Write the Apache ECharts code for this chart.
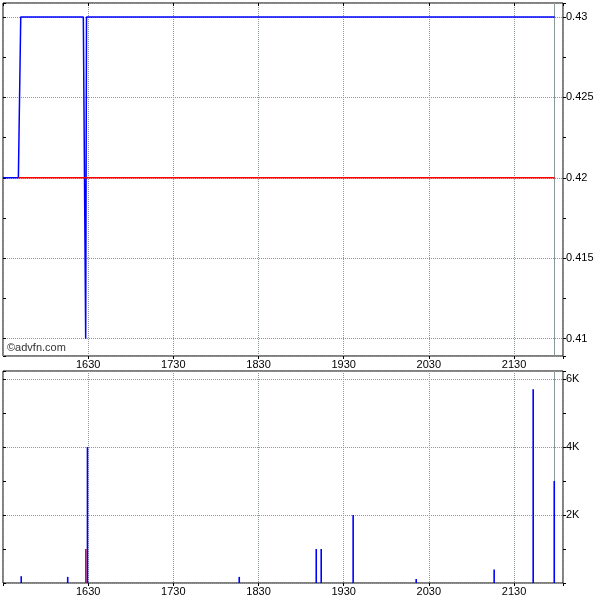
<!DOCTYPE html>
<html>
<head>
<meta charset="utf-8">
<script src="https://cdn.jsdelivr.net/npm/echarts@6/dist/echarts.min.js"></script>
<style>html,body{margin:0;padding:0;background:#fff;}#c{width:600px;height:600px;}</style>
</head>
<body>
<div id="c"></div>
<script>
// ---- data (times of day) ----
const priceTimes = ['15:30', '15:40:50', '15:42:30', '16:26:35', '16:28:15', '16:28:50', '21:58:40'];
const priceValues = [0.42, 0.42, 0.43, 0.43, 0.41, 0.43, 0.43];
const prevClose = 0.42;
const prevCloseStart = '15:40:50';

const volumeTimes = ['15:42:50', '16:15:35', '16:28:20', '16:29:30', '18:16:25', '19:10:40', '19:14:10', '19:36:40', '20:21:05', '21:16:00', '21:43:30', '21:58:20'];
const volumeValues = [200, 180, 1000, 4000, 180, 1000, 1000, 2000, 120, 400, 5700, 3000];
const volumeSide = ['up', 'up', 'down', 'up', 'up', 'up', 'up', 'up', 'up', 'up', 'up', 'up'];

const xTickLabels = ['1630', '1730', '1830', '1930', '2030', '2130'];
const priceTickLabels = ['0.41', '0.415', '0.42', '0.425', '0.43'];
const volumeTickLabels = ['2K', '4K', '6K'];

// ---- helpers ----
function toMin(s) {
  const p = s.split(':').map(Number);
  return p[0] * 60 + p[1] + (p[2] || 0) / 60;
}
function minToLabel(v) {
  const h = Math.floor(v / 60), m = Math.round(v - h * 60);
  return String(h) + String(m).padStart(2, '0');
}
const X_MIN = 930, X_MAX = 1324.5;
const lastTrade = toMin(volumeTimes[volumeTimes.length - 1]);

const priceData = priceTimes.map((t, i) => [toMin(t), priceValues[i]]);
const prevData = [[toMin(prevCloseStart), prevClose], [toMin(priceTimes[priceTimes.length - 1]), prevClose]];
const volData = volumeTimes.map((t, i) => ({
  value: [toMin(t), volumeValues[i]],
  itemStyle: { color: volumeSide[i] === 'down' ? '#ff0000' : '#0000ff' }
}));

const FONT = 'Liberation Sans';
const gridLine = { show: true, lineStyle: { color: '#8f9999', type: [1, 1], width: 1 } };

function xAxisDef(gridIndex, position, showLabels) {
  return {
    type: 'value', gridIndex, position, min: X_MIN, max: X_MAX, interval: 60,
    axisLine: { show: false },
    axisTick: { show: true, inside: position === 'top', length: 3, lineStyle: { color: '#000' } },
    axisLabel: {
      show: showLabels, margin: 3, color: '#000', fontFamily: FONT, fontSize: 11,
      showMinLabel: false,
      formatter: v => {
        const s = minToLabel(v);
        return xTickLabels.indexOf(s) >= 0 ? s : '';
      }
    },
    splitLine: showLabels ? gridLine : { show: false }
  };
}

const priceFmt = v => {
  const s = String(parseFloat(v.toFixed(4)));
  return priceTickLabels.indexOf(s) >= 0 ? s : '';
};
const volFmt = v => {
  const s = (v / 1000) + 'K';
  return volumeTickLabels.indexOf(s) >= 0 ? s : '';
};

const P_MIN = 0.40892, P_MAX = 0.43087;
const V_MAX = 6235;

function yAxisDef(gridIndex, position, isPrice) {
  const right = position === 'right';
  const o = {
    type: 'value', gridIndex, position,
    min: isPrice ? P_MIN : 0, max: isPrice ? P_MAX : V_MAX,
    axisLine: { show: false },
    axisTick: { show: true, inside: !right, length: 3, lineStyle: { color: '#000' } },
    minorTick: { show: true, splitNumber: 2, length: 3, lineStyle: { color: '#000' } },
    axisLabel: {
      show: right, margin: 3, color: '#000', fontFamily: FONT, fontSize: 11,
      formatter: isPrice ? priceFmt : volFmt
    },
    splitLine: right ? gridLine : { show: false }
  };
  if (isPrice) o.splitNumber = 4; else o.interval = 2000;
  return o;
}

const lastTradeMark = {
  silent: true, symbol: 'none', label: { show: false }, z: 1,
  lineStyle: { color: '#8a9a9a', type: 'solid', width: 1 },
  data: [{ xAxis: lastTrade }]
};

const chart = echarts.init(document.getElementById('c'), null, { renderer: 'canvas' });
chart.setOption({
  animation: false,
  backgroundColor: '#fff',
  grid: [
    { left: 3, right: 37, top: 3, bottom: 244, show: true, borderColor: '#000', borderWidth: 1, backgroundColor: '#fff' },
    { left: 3, right: 37, top: 371, bottom: 17, show: true, borderColor: '#000', borderWidth: 1, backgroundColor: '#fff' }
  ],
  xAxis: [
    xAxisDef(0, 'bottom', true),
    xAxisDef(0, 'top', false),
    xAxisDef(1, 'bottom', true),
    xAxisDef(1, 'top', false)
  ],
  yAxis: [
    yAxisDef(0, 'right', true),
    yAxisDef(0, 'left', true),
    yAxisDef(1, 'right', false),
    yAxisDef(1, 'left', false)
  ],
  graphic: [
    { type: 'text', left: 7, top: 342, z: 100,
      style: { text: '©advfn.com', fill: '#333', font: '11px "Liberation Sans"' } }
  ],
  series: [
    {
      type: 'line', xAxisIndex: 0, yAxisIndex: 0, data: [],
      showSymbol: false, symbol: 'none', z: 1, markLine: lastTradeMark
    },
    {
      type: 'line', xAxisIndex: 0, yAxisIndex: 0, data: priceData,
      showSymbol: false, symbol: 'none', z: 6,
      lineStyle: { color: '#0000ff', width: 1.5 }
    },
    {
      type: 'line', xAxisIndex: 0, yAxisIndex: 0, data: prevData,
      showSymbol: false, symbol: 'none', z: 7,
      lineStyle: { color: '#ff0000', width: 1.5 }
    },
    {
      type: 'line', xAxisIndex: 2, yAxisIndex: 2, data: [],
      showSymbol: false, symbol: 'none', z: 1, markLine: lastTradeMark
    },
    {
      type: 'bar', xAxisIndex: 2, yAxisIndex: 2, data: volData,
      barWidth: 1.6, z: 6
    }
  ]
});
</script>
</body>
</html>
